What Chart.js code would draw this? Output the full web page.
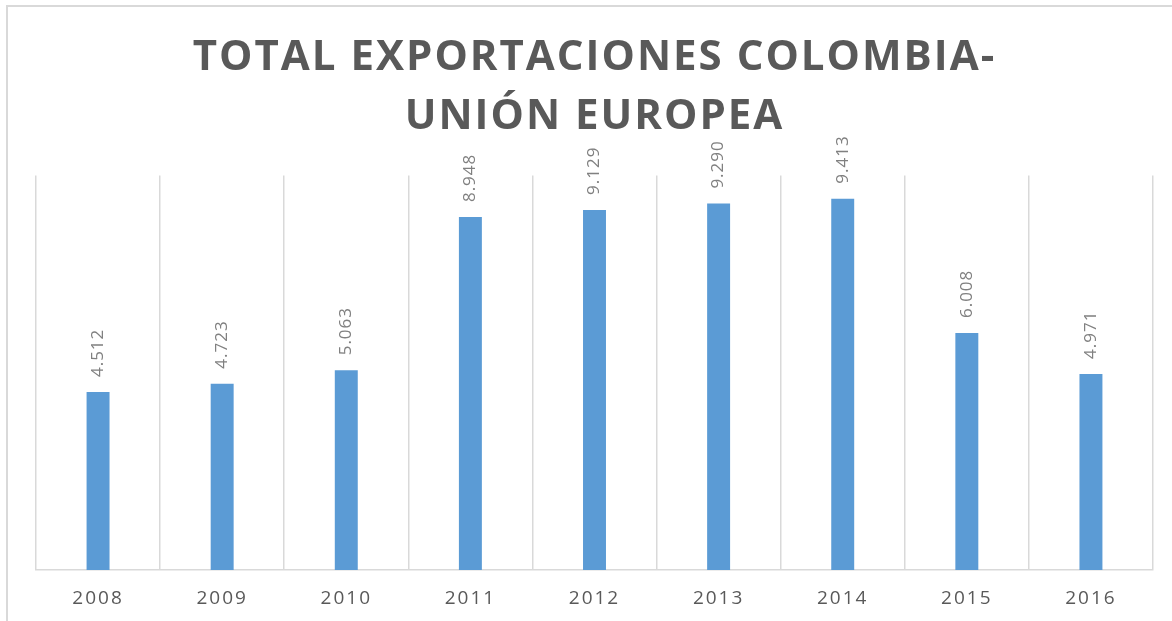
<!DOCTYPE html>
<html>
  <head>
    <meta charset="UTF-8" />
    <title>Total exportaciones Colombia - Unión Europea</title>
    <script src="https://cdn.jsdelivr.net/npm/chart.js"></script>
    <style>
      html, body { margin: 0; padding: 0; background: #fff; }
      .chart-box { position: relative; width: 1172px; height: 621px; }
    </style>
  </head>
  <body>
    <div class="chart-box"><canvas id="chart"></canvas></div>
    <script>
      const years = ["2008", "2009", "2010", "2011", "2012", "2013", "2014", "2015", "2016"];
      const exports = [4.512, 4.723, 5.063, 8.948, 9.129, 9.29, 9.413, 6.008, 4.971];
      const valueLabels = ["4.512", "4.723", "5.063", "8.948", "9.129", "9.290", "9.413", "6.008", "4.971"];
      const titleLines = ["TOTAL EXPORTACIONES COLOMBIA-", "UNIÓN EUROPEA"];

      const FONT = "'Open Sans', 'Liberation Sans', sans-serif";

      // frame, spacing and value labels
      const extras = {
        id: "extras",
        beforeDraw(chart) {
          const ctx = chart.ctx;
          ctx.save();
          ctx.strokeStyle = "#d9d9d9";
          ctx.lineWidth = 2;
          ctx.strokeRect(7, 6, chart.width + 10, chart.height + 10);
          ctx.restore();
          // title and tick labels are spaced out a little
          ctx.letterSpacing = "2px";
        },
        afterDatasetsDraw(chart) {
          const ctx = chart.ctx;
          const meta = chart.getDatasetMeta(0);
          ctx.save();
          ctx.letterSpacing = "1px";
          ctx.fillStyle = "#808080";
          ctx.font = "17px " + FONT;
          ctx.textAlign = "left";
          ctx.textBaseline = "middle";
          meta.data.forEach((bar, i) => {
            ctx.save();
            ctx.translate(bar.x, bar.y - 15);
            ctx.rotate(-Math.PI / 2);
            ctx.fillText(valueLabels[i], 0, 0);
            ctx.restore();
          });
          ctx.restore();
        },
        afterDraw(chart) {
          chart.ctx.letterSpacing = "0px";
        },
      };

      new Chart(document.getElementById("chart"), {
        type: "bar",
        data: {
          labels: years,
          datasets: [
            {
              data: exports,
              backgroundColor: "#5b9bd5",
              barPercentage: 0.185,
              categoryPercentage: 1,
            },
          ],
        },
        options: {
          responsive: true,
          maintainAspectRatio: false,
          animation: false,
          layout: { padding: { left: 36, right: 19, top: 0, bottom: 13 } },
          plugins: {
            legend: { display: false },
            tooltip: { enabled: false },
            title: {
              display: true,
              text: titleLines,
              color: "#595959",
              font: { family: FONT, size: 42, weight: "bold", lineHeight: 1.4 },
              padding: { top: 29, bottom: 29 },
            },
          },
          scales: {
            x: {
              grid: { color: "#d9d9d9", lineWidth: 1.5, drawTicks: false, offset: true },
              border: { color: "#d9d9d9", width: 1.5 },
              ticks: { color: "#595959", font: { family: FONT, size: 19 }, padding: 17 },
              afterFit(scale) {
                scale.height = 38;
              },
            },
            y: { display: false, min: 0, max: 10 },
          },
        },
        plugins: [extras],
      });
    </script>
  </body>
</html>
